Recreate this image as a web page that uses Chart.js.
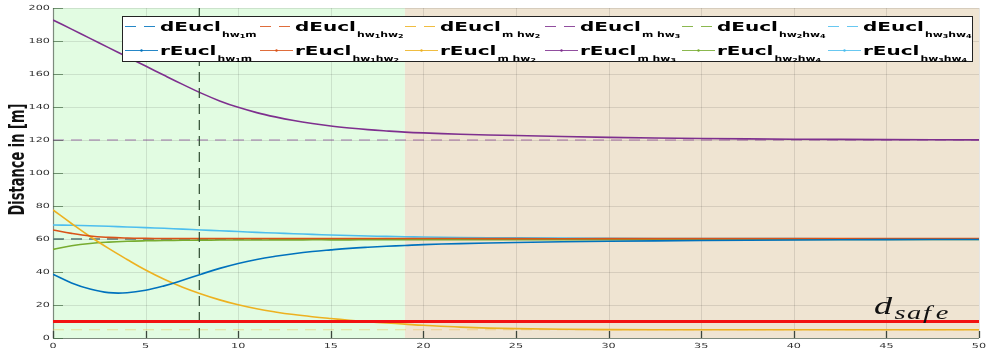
<!DOCTYPE html>
<html>
<head>
<meta charset="utf-8">
<script src="https://cdn.jsdelivr.net/npm/chart.js@4.4.1/dist/chart.umd.min.js"></script>
<style>
  html, body { margin: 0; padding: 0; background: #fff; }
  #wrap { width: 988px; height: 352px; }
</style>
</head>
<body>
<div id="wrap"><canvas id="c" width="988" height="352"></canvas></div>
<script>
/* distances between agents over time: desired (dEucl, dashed) vs real (rEucl, solid) */

var T = [0,1,2,3,4,5,6,7,8,9,10,11,12,13,14,15,16,17,18,19,20,22,25,30,35,40,45,50];

var rHw1m   = [38.6,33.4,29.7,27.5,27.4,28.9,31.6,35.0,38.7,42.2,45.2,47.6,49.5,51.1,52.4,53.4,54.3,55.0,55.6,56.1,56.6,57.2,57.9,58.6,59.1,59.4,59.6,59.7];
var rHw1hw2 = [65.5,63.4,61.8,61.0,60.6,60.4,60.3,60.3,60.3,60.3,60.3,60.3,60.3,60.3,60.3,60.3,60.3,60.3,60.3,60.3,60.3,60.3,60.2,60.2,60.2,60.2,60.2,60.2];
var rMhw2   = [77.6,69.4,61.5,54.3,47.6,41.2,35.6,30.8,26.7,23.1,20.1,17.7,15.8,14.2,12.9,11.8,10.8,9.9,9.1,8.4,7.7,6.6,5.7,5.1,5.0,5.0,5.0,5.0];
var rMhw3   = [192.7,187.2,181.6,176.0,170.4,164.8,159.2,153.7,148.4,143.7,139.8,136.6,134.0,131.8,130.0,128.5,127.3,126.3,125.5,124.8,124.3,123.5,122.7,121.6,120.9,120.5,120.25,120.1];
var rHw2hw4 = [53.7,55.9,57.3,58.1,58.6,58.9,59.1,59.2,59.3,59.35,59.4,59.4,59.45,59.45,59.5,59.5,59.5,59.55,59.55,59.6,59.6,59.6,59.6,59.65,59.65,59.7,59.7,59.7];
var rHw3hw4 = [68.5,68.3,68.0,67.7,67.3,66.9,66.5,66.0,65.5,65.0,64.5,64.0,63.6,63.2,62.8,62.4,62.1,61.8,61.6,61.4,61.2,60.9,60.7,60.4,60.3,60.2,60.1,60.1];

// desired distances, same order as the pairs below
var dEucl = [60, 60, 5, 120, 60, 60];

var dSafe = 10;
var markT = 7.9;      // dashed vertical marker
var zoneSplit = 19;   // green phase ends, tan phase begins

var xTicks = [0,5,10,15,20,25,30,35,40,45,50];
var yTicks = [0,20,40,60,80,100,120,140,160,180,200];

var COLORS = ['#0072BD', '#D95319', '#EDB120', '#7E2F8E', '#77AC30', '#4DBEEE'];
// subscript pieces: [text, level] with level 1 = sub, 2 = sub of sub
var PAIRS = [
  [['hw',1],['1',2],['m',1]],
  [['hw',1],['1',2],['hw',1],['2',2]],
  [['m hw',1],['2',2]],
  [['m hw',1],['3',2]],
  [['hw',1],['2',2],['hw',1],['4',2]],
  [['hw',1],['3',2],['hw',1],['4',2]]
];
var REAL = [rHw1m, rHw1hw2, rMhw2, rMhw3, rHw2hw4, rHw3hw4];

var SX = 1.6; // horizontal text stretch
var FONT = "'DejaVu Sans', sans-serif";

function pts(ys) { return T.map(function (t, i) { return { x: t, y: ys[i] }; }); }
function flat(v) { return [{ x: T[0], y: v }, { x: T[T.length - 1], y: v }]; }
function alpha(hex, a) {
  var n = parseInt(hex.slice(1), 16);
  return 'rgba(' + (n >> 16 & 255) + ',' + (n >> 8 & 255) + ',' + (n & 255) + ',' + a + ')';
}

var datasets = [];
// dashed desired distances first, so the real curves sit on top
dEucl.forEach(function (v, i) {
  datasets.push({
    data: flat(v), borderColor: alpha(COLORS[i], i === 2 ? 0.4 : 0.65),
    borderWidth: 1.1, borderDash: [11, 7], pointRadius: 0, order: 10
  });
});
REAL.forEach(function (ys, i) {
  datasets.push({
    data: pts(ys), borderColor: COLORS[i], borderWidth: 1.6,
    tension: 0.4, pointRadius: 0, order: 5
  });
});
datasets.push({
  data: flat(dSafe), borderColor: '#f21111', borderWidth: 3.2, pointRadius: 0, order: 1
});
datasets.push({
  data: [{ x: markT, y: yTicks[0] }, { x: markT, y: yTicks[yTicks.length - 1] }],
  borderColor: '#2c4a30', borderWidth: 1.2, borderDash: [10, 6], pointRadius: 0, order: 2
});

function stretchText(ctx, txt, x, y, sx) {
  ctx.save(); ctx.translate(x, y); ctx.scale(sx, 1); ctx.fillText(txt, 0, 0); ctx.restore();
}

/* background zones, grid, axes and tick labels */
var frame = {
  id: 'frame',
  beforeDatasetsDraw: function (chart) {
    var ctx = chart.ctx, a = chart.chartArea, xs = chart.scales.x, ys = chart.scales.y;
    var xm = xs.getPixelForValue(zoneSplit);
    ctx.save();
    ctx.fillStyle = '#e2fce2'; ctx.fillRect(a.left, a.top, xm - a.left, a.bottom - a.top);
    ctx.fillStyle = '#efe4d2'; ctx.fillRect(xm, a.top, a.right - xm, a.bottom - a.top);

    ctx.strokeStyle = 'rgba(0,0,0,0.1)'; ctx.lineWidth = 1;
    xTicks.forEach(function (t) {
      var px = Math.round(xs.getPixelForValue(t)) + 0.5;
      ctx.beginPath(); ctx.moveTo(px, a.top); ctx.lineTo(px, a.bottom); ctx.stroke();
    });
    yTicks.forEach(function (v) {
      var py = Math.round(ys.getPixelForValue(v)) + 0.5;
      ctx.beginPath(); ctx.moveTo(a.left, py); ctx.lineTo(a.right, py); ctx.stroke();
    });

    // axis lines and inward ticks
    ctx.strokeStyle = '#7d8a7d'; ctx.lineWidth = 1.2;
    ctx.beginPath(); ctx.moveTo(a.left + 0.5, a.top); ctx.lineTo(a.left + 0.5, a.bottom + 0.5);
    ctx.lineTo(a.right, a.bottom + 0.5); ctx.stroke();
    ctx.strokeStyle = 'rgba(60,100,60,0.65)'; ctx.lineWidth = 1;
    yTicks.forEach(function (v) {
      var py = Math.round(ys.getPixelForValue(v)) + 0.5;
      ctx.beginPath(); ctx.moveTo(a.left, py); ctx.lineTo(a.left + 10, py); ctx.stroke();
    });
    ctx.strokeStyle = '#3c463c'; ctx.lineWidth = 1.3;
    xTicks.forEach(function (t) {
      var px = Math.round(xs.getPixelForValue(t)) + 0.5;
      ctx.beginPath(); ctx.moveTo(px, a.bottom); ctx.lineTo(px, a.bottom - 7); ctx.stroke();
    });

    // tick labels
    ctx.fillStyle = '#333'; ctx.font = '7px ' + FONT;
    ctx.textAlign = 'right'; ctx.textBaseline = 'middle';
    yTicks.forEach(function (v) { stretchText(ctx, String(v), a.left - 3, ys.getPixelForValue(v), SX); });
    ctx.textAlign = 'center'; ctx.textBaseline = 'top';
    xTicks.forEach(function (t) { stretchText(ctx, String(t), xs.getPixelForValue(t), a.bottom + 5, SX); });

    // y title
    ctx.font = 'bold 13px ' + FONT; ctx.fillStyle = '#111';
    ctx.textAlign = 'center'; ctx.textBaseline = 'alphabetic';
    ctx.translate(24, (a.top + a.bottom) / 2 - 13.5);
    ctx.rotate(-Math.PI / 2); ctx.scale(1, SX);
    ctx.fillText('Distance in [m]', 0, 0);
    ctx.restore();
  },

  afterDraw: function (chart) {
    var ctx = chart.ctx, ys = chart.scales.y;
    ctx.save();
    // d_safe label
    ctx.fillStyle = '#111';
    ctx.textAlign = 'center'; ctx.textBaseline = 'alphabetic';
    var by = ys.getPixelForValue(dSafe) - 8;
    ctx.font = 'italic 25px "Liberation Serif", serif';
    stretchText(ctx, 'd', 883, by, 1.45);
    ctx.font = 'italic 19px "Liberation Serif", serif';
    [['s', 900], ['a', 914], ['f', 927], ['e', 942]].forEach(function (c) {
      stretchText(ctx, c[0], c[1], by + 5, 1.5);
    });

    // legend box
    var L = 122, R = 973, TOP = 16, BOT = 62;
    ctx.fillStyle = '#fff'; ctx.fillRect(L, TOP, R - L, BOT - TOP);
    ctx.strokeStyle = '#222'; ctx.lineWidth = 1;
    ctx.strokeRect(L + 0.5, TOP + 0.5, R - L - 1, BOT - TOP - 1);

    var colX = [125, 260, 405, 545, 682, 828];
    var rows = [{ name: 'dEucl', y: 31, dashed: true }, { name: 'rEucl', y: 55, dashed: false }];
    ctx.textAlign = 'left'; ctx.textBaseline = 'alphabetic';
    rows.forEach(function (row) {
      PAIRS.forEach(function (parts, i) {
        var x0 = colX[i], ly = row.y - 4.5;
        ctx.strokeStyle = alpha(COLORS[i], 0.85); ctx.lineWidth = 1.2;
        ctx.setLineDash(row.dashed ? [11, 8] : []);
        ctx.beginPath(); ctx.moveTo(x0, ly); ctx.lineTo(x0 + 33, ly); ctx.stroke();
        ctx.setLineDash([]);
        if (!row.dashed) {
          ctx.fillStyle = COLORS[i];
          ctx.beginPath(); ctx.arc(x0 + 16.5, ly, 1.2, 0, Math.PI * 2); ctx.fill();
        }
        ctx.fillStyle = '#000';
        var x = x0 + 35;
        ctx.font = 'bold 12.5px ' + FONT;
        stretchText(ctx, row.name, x, row.y, SX);
        x += ctx.measureText(row.name).width * SX + 1;
        parts.forEach(function (p) {
          ctx.font = 'bold ' + (p[1] === 1 ? 7.5 : 5.5) + 'px ' + FONT;
          stretchText(ctx, p[0], x, row.y + (p[1] === 1 ? 5.5 : 6.5), 1.45);
          x += ctx.measureText(p[0]).width * 1.45;
        });
      });
    });
    ctx.restore();
  }
};

new Chart(document.getElementById('c'), {
  type: 'line',
  data: { datasets: datasets },
  options: {
    responsive: false, animation: false,
    layout: { padding: { left: 53, right: 9, top: 8, bottom: 14 } },
    plugins: { legend: { display: false }, tooltip: { enabled: false } },
    scales: {
      x: { type: 'linear', display: false, min: xTicks[0], max: xTicks[xTicks.length - 1] },
      y: { type: 'linear', display: false, min: yTicks[0], max: yTicks[yTicks.length - 1] }
    }
  },
  plugins: [frame]
});
</script>
</body>
</html>
